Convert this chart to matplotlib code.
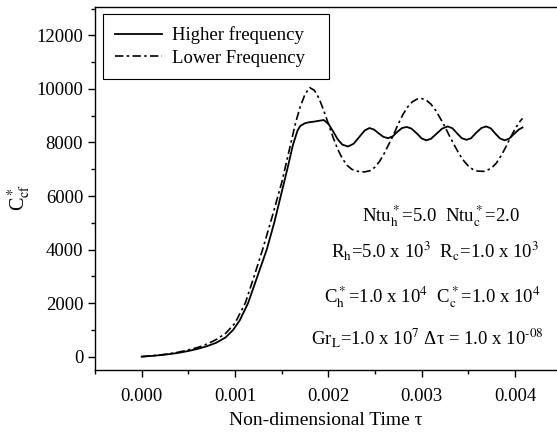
import matplotlib
matplotlib.use("Agg")
import matplotlib.pyplot as plt
from matplotlib.ticker import MultipleLocator

plt.rcParams['font.family'] = ['Liberation Serif', 'DejaVu Serif']
plt.rcParams['mathtext.fontset'] = 'stix'

# Higher frequency (solid)
tau_high = [0.0, 0.0001, 0.0002, 0.0003, 0.0004, 0.0005, 0.0006, 0.0007, 0.0008, 0.0009,
            0.00098, 0.00105, 0.00114, 0.00124, 0.00134, 0.00142, 0.00149, 0.00156,
            0.00162, 0.00167, 0.0017, 0.00175, 0.0018, 0.00185, 0.0019, 0.00195,
            0.0020, 0.00205, 0.0021, 0.00215, 0.00221, 0.00227, 0.00233, 0.00239,
            0.00244, 0.00249, 0.00254, 0.00259, 0.00264, 0.00269, 0.00274, 0.00279,
            0.00284, 0.00289, 0.00295, 0.0030, 0.00305, 0.0031, 0.00316, 0.00322,
            0.00328, 0.00333, 0.00338, 0.00343, 0.00348, 0.00353, 0.00358, 0.00364,
            0.00369, 0.00374, 0.00379, 0.00384, 0.00389, 0.00394, 0.00399, 0.00404,
            0.00408]
c_high = [0, 25, 55, 95, 145, 210, 290, 390, 520, 720,
          1000, 1350, 2000, 3000, 4000, 5000, 6000, 7000,
          7900, 8450, 8620, 8720, 8760, 8780, 8810, 8840,
          8700, 8420, 8120, 7920, 7850, 7950, 8200, 8450,
          8540, 8480, 8340, 8210, 8160, 8230, 8400, 8540,
          8580, 8520, 8330, 8150, 8080, 8140, 8330, 8520,
          8600, 8530, 8340, 8160, 8100, 8160, 8350, 8540,
          8600, 8530, 8330, 8150, 8080, 8150, 8320, 8480,
          8560]

# Lower frequency (dash-dot)
tau_low = [0.0, 0.0001, 0.0002, 0.0003, 0.0004, 0.0005, 0.0006, 0.0007, 0.0008, 0.0009,
           0.001, 0.00111, 0.0012, 0.0013, 0.0014, 0.0015, 0.00155, 0.0016, 0.00165,
           0.0017, 0.00175, 0.0018, 0.00185, 0.0019, 0.00195, 0.002, 0.00205, 0.0021,
           0.00215, 0.0022, 0.00225, 0.0023, 0.00239, 0.00245, 0.0025, 0.00255, 0.0026,
           0.00265, 0.0027, 0.00275, 0.0028, 0.00285, 0.0029, 0.00295, 0.003, 0.00305,
           0.0031, 0.00315, 0.0032, 0.00325, 0.0033, 0.00335, 0.0034, 0.00345, 0.0035,
           0.00355, 0.0036, 0.00368, 0.00375, 0.0038, 0.00385, 0.0039, 0.00395, 0.004,
           0.00404, 0.00408]
c_low = [0, 28, 62, 110, 170, 250, 340, 470, 640, 870,
         1250, 2000, 2950, 4050, 5250, 6500, 7250, 8000, 8750,
         9350, 9800, 10050, 9950, 9650, 9200, 8700, 8200, 7750,
         7400, 7150, 7000, 6930, 6900, 6950, 7080, 7300, 7600,
         7950, 8300, 8700, 9050, 9330, 9520, 9620, 9640, 9580,
         9430, 9200, 8900, 8580, 8230, 7900, 7580, 7320, 7120,
         6990, 6930, 6920, 7050, 7230, 7500, 7820, 8180, 8500,
         8730, 8900]

labels = ["Higher frequency", "Lower Frequency"]
annotations = [
    r"Ntu$_\mathrm{h}^*$=5.0  Ntu$_\mathrm{c}^*$=2.0",
    r"R$_\mathrm{h}$=5.0 x 10$^3$  R$_\mathrm{c}$=1.0 x 10$^3$",
    r"C$_\mathrm{h}^*$=1.0 x 10$^4$  C$_\mathrm{c}^*$=1.0 x 10$^4$",
    r"Gr$_\mathrm{L}$=1.0 x 10$^7$ Δτ = 1.0 x 10$^{\text{-08}}$",
]
annot_pos = [(0.75, 0.425), (0.735, 0.33), (0.73, 0.20), (0.72, 0.09)]

fig = plt.figure(figsize=(5.57, 4.32), dpi=100)
ax = fig.add_axes([0.1706, 0.1435, 0.8294, 0.8396])

fs = 13.5
ax.plot(tau_high, c_high, color='black', lw=1.3, label=labels[0])
ax.plot(tau_low, c_low, color='black', lw=1.2, linestyle=(0, (5, 2, 1.5, 2)), label=labels[1])

ax.set_xlim(-0.0005, 0.00445)
ax.set_ylim(-500, 13050)
ax.xaxis.set_minor_locator(MultipleLocator(0.0005))
ax.yaxis.set_minor_locator(MultipleLocator(1000))
ax.set_xticks([0.0, 0.001, 0.002, 0.003, 0.004])
ax.set_xticklabels(["0.000", "0.001", "0.002", "0.003", "0.004"])
ax.set_yticks([0, 2000, 4000, 6000, 8000, 10000, 12000])
ax.set_yticklabels(["0", "2000", "4000", "6000", "8000", "10000", "12000"])
ax.tick_params(which='major', direction='out', length=5, width=1, labelsize=fs, pad=3.5,
               top=False, right=False)
ax.tick_params(axis='x', which='major', pad=8)
ax.tick_params(which='minor', direction='out', length=3, width=1, top=False, right=False)
ax.spines['right'].set_visible(False)
for s in ['left', 'bottom', 'top']:
    ax.spines[s].set_linewidth(1.0)

ax.set_xlabel("Non-dimensional Time τ", fontsize=fs + 0.5, labelpad=5)
ax.set_ylabel(r"C$_\mathrm{cf}^*$", fontsize=14.5)
ax.yaxis.set_label_coords(-0.134, 0.477)

leg = ax.legend(loc='upper left', bbox_to_anchor=(0.0173, 0.5, 0.489, 0.4815),
                mode='expand', borderaxespad=0,
                fontsize=fs, frameon=True, fancybox=False, framealpha=1,
                edgecolor='black', handlelength=2.5, handletextpad=0.55,
                labelspacing=0.3, borderpad=0.65)
leg.get_frame().set_linewidth(0.8)

for txt, (x, y) in zip(annotations, annot_pos):
    ax.text(x, y, txt, transform=ax.transAxes, ha='center', va='center', fontsize=fs)

fig.savefig("out.png", dpi=100)
